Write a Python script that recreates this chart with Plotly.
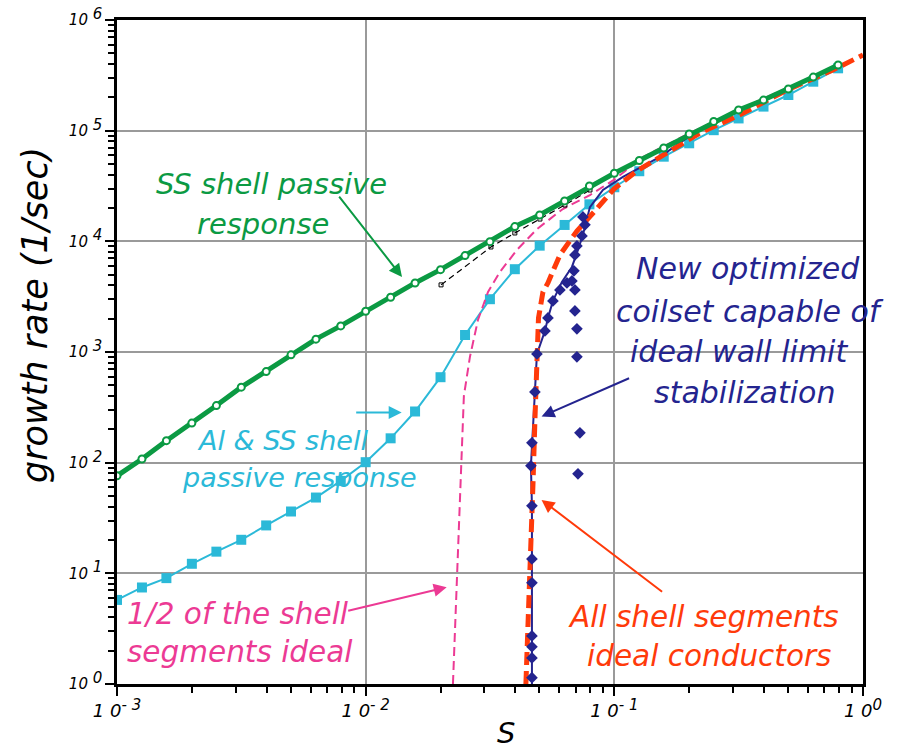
import math
import plotly.graph_objects as go

# ---------------- data ----------------
s_grid = [0.001, 0.00126, 0.00158, 0.002, 0.00251, 0.00316, 0.00398, 0.00501, 0.00631, 0.00794,
          0.01, 0.0126, 0.0158, 0.02, 0.0251, 0.0316, 0.0398, 0.0501, 0.0631, 0.0794,
          0.1, 0.126, 0.158, 0.2, 0.251, 0.316, 0.398, 0.501, 0.631, 0.794]

ss_rate = [76, 108, 158, 228, 328, 481, 665, 942, 1306, 1722,
           2333, 3126, 4207, 5550, 7430, 9930, 13590, 17300, 23200, 31600,
           41200, 53700, 69800, 93300, 121000, 154000, 189000, 238000, 305000, 392000]

alss_rate = [5.75, 7.45, 9.05, 12.2, 15.7, 20.1, 27.1, 36.2, 48.4, 68.5,
             101, 166, 290, 592, 1425, 3000, 5600, 9140, 14060, 21600,
             30800, 43000, 58200, 76900, 101000, 129000, 165000, 210000, 277000, 366000]

black_s = [0.0201, 0.0319, 0.0398, 0.0502, 0.0633, 0.0798]
black_rate = [4040, 8890, 11900, 15900, 21300, 29100]

half_s = [0.02244, 0.02285, 0.02327, 0.02393, 0.02438, 0.02483, 0.02626, 0.02829, 0.03105, 0.03469,
          0.04058, 0.04883, 0.06209, 0.07977, 0.09955, 0.1303, 0.2013, 0.3848, 0.7925]
half_rate = [1, 3.09, 8.73, 46.1, 131, 401, 904, 1950, 3490, 5300,
             8360, 12900, 19600, 26200, 35900, 57800, 95300, 189000, 384000]

ideal_s = [0.04409, 0.04581, 0.0471, 0.04798, 0.04887, 0.04955, 0.05164, 0.05407, 0.06043, 0.07074,
           0.08281, 0.09955, 0.1233, 0.1525, 0.2209, 0.3197, 0.4943, 0.7565, 1.0]
ideal_rate = [1, 8.2, 65.6, 259, 904, 2032, 3490, 4210, 7540, 12400,
              18400, 29700, 43200, 57800, 95300, 139000, 233000, 353000, 483000]

coil_line_s = [0.04663, 0.04663, 0.04663, 0.04663, 0.04663, 0.04663, 0.04663, 0.04619, 0.04663, 0.04793,
               0.04884, 0.0526, 0.05408, 0.05664, 0.06155, 0.06753, 0.07141, 0.07474, 0.07977, 0.08999,
               0.1083, 0.1526, 0.2014]
coil_line_rate = [1.0, 1.72, 2.17, 2.72, 8.21, 13.5, 40.7, 93.6, 151, 436,
                  961, 1550, 2030, 2895, 4300, 5870, 8360, 11400, 20400, 29100,
                  38200, 57900, 89600]

coil_pts_s = [0.04663, 0.04663, 0.04663, 0.04663, 0.04663, 0.04663, 0.04663, 0.04619, 0.04663, 0.04793,
              0.04884, 0.0526, 0.05408, 0.05664]
coil_pts_rate = [1.14, 1.72, 2.17, 2.72, 8.21, 13.5, 40.7, 93.6, 151, 436,
                 961, 1550, 2030, 2895]

coil_scatter_s = [0.06042, 0.06448, 0.06753, 0.06943, 0.06943, 0.07072, 0.07072, 0.07272, 0.07141,
                  0.06879, 0.06943, 0.07072, 0.0741, 0.07618, 0.07474]
coil_scatter_rate = [3640, 4207, 4385, 3640, 2350, 1618, 904, 186, 79.2,
                     5410, 7540, 9090, 11200, 14100, 16600]

x_tick_vals = [0.001, 0.01, 0.1, 1]
x_tick_exp = ["- 3", "- 2", "- 1", "0"]
y_tick_vals = [1, 10, 100, 1000, 10000, 100000, 1000000]
y_tick_exp = ["0", "1", "2", "3", "4", "5", "6"]

# ---------------- styling ----------------
GREEN = "#0b9a43"
CYAN = "#2bb9d8"
MAGENTA = "#ec3a94"
RED = "#ff3a0a"
NAVY = "#24248f"
FONT = "DejaVu Sans"

W, H = 900, 749
L, R, T, B = 117, 863, 20, 684    # plot area in screenshot pixels


def px2paper(px, py):
    return (px - L) / (R - L), (B - py) / (B - T)


x_tick_text = ['1 0<sup><span style="font-size:15px">%s</span></sup>' % e for e in x_tick_exp]
y_tick_text = ['10<sup><span style="font-size:15px"> %s</span></sup>' % e for e in y_tick_exp]

fig = go.Figure()

fig.add_trace(go.Scatter(x=s_grid, y=alss_rate, mode="lines+markers",
                         line=dict(color=CYAN, width=2),
                         marker=dict(symbol="square", size=10, color=CYAN)))
fig.add_trace(go.Scatter(x=half_s, y=half_rate, mode="lines",
                         line=dict(color=MAGENTA, width=2, dash="9px,5px")))
fig.add_trace(go.Scatter(x=black_s, y=black_rate, mode="lines+markers",
                         line=dict(color="black", width=1.2, dash="6px,4px"),
                         marker=dict(symbol="square-open", size=4, color="black")))
fig.add_trace(go.Scatter(x=coil_line_s, y=coil_line_rate, mode="lines",
                         line=dict(color=NAVY, width=2)))
fig.add_trace(go.Scatter(x=ideal_s, y=ideal_rate, mode="lines",
                         line=dict(color=RED, width=5, dash="13px,6px")))
fig.add_trace(go.Scatter(x=coil_pts_s, y=coil_pts_rate, mode="markers",
                         marker=dict(symbol="diamond", size=9, color=NAVY)))
fig.add_trace(go.Scatter(x=coil_scatter_s, y=coil_scatter_rate, mode="markers",
                         marker=dict(symbol="diamond", size=9, color=NAVY)))
fig.add_trace(go.Scatter(x=s_grid, y=ss_rate, mode="lines+markers",
                         line=dict(color=GREEN, width=5),
                         marker=dict(symbol="circle", size=7, color="white",
                                     line=dict(color=GREEN, width=2))))

annotations = []

# text lines: (text, px_center, py_center, size, color)
text_lines = [
    ("SS shell passive", 271, 184, 29, GREEN),
    ("response", 263, 224, 29, GREEN),
    ("Al & SS shell", 282, 440, 27, CYAN),
    ("passive response", 299, 477, 27, CYAN),
    ("1/2 of the shell", 238, 614, 29.5, MAGENTA),
    ("segments ideal", 240, 652, 29.5, MAGENTA),
    ("New optimized", 748, 268, 30, NAVY),
    ("coilset capable of", 750, 311, 30, NAVY),
    ("ideal wall limit", 739, 351, 30, NAVY),
    ("stabilization", 744, 392, 30, NAVY),
    ("All shell segments", 703, 617, 29.5, RED),
    ("ideal conductors", 709, 656, 29.5, RED),
]
for txt, px, py, sz, col in text_lines:
    xp, yp = px2paper(px, py)
    annotations.append(dict(text=txt, x=xp, y=yp, xref="paper", yref="paper",
                            xanchor="center", yanchor="middle", showarrow=False,
                            font=dict(family=FONT, size=sz, color=col, style="italic")))

# arrows: tip in data coordinates, tail offset in pixels
arrows = [
    (0.0140, 4760, -64, -82, GREEN),
    (0.01396, 284, -47, 0, CYAN),
    (0.02118, 7.5, -100, 24, MAGENTA),
    (0.05099, 261, 89, -39, NAVY),
    (0.05099, 46.1, 122, 93, RED),
]
for s_tip, r_tip, ax, ay, col in arrows:
    annotations.append(dict(text="", x=math.log10(s_tip), y=math.log10(r_tip),
                            xref="x", yref="y", ax=ax, ay=ay, showarrow=True,
                            arrowhead=2, arrowsize=1.3, arrowwidth=2, arrowcolor=col,
                            standoff=0))

# axis titles
xp, yp = px2paper(35, 315)
annotations.append(dict(text="growth rate (1/sec)", x=xp, y=yp, xref="paper", yref="paper",
                        textangle=-90, showarrow=False, xanchor="center", yanchor="middle",
                        font=dict(family=FONT, size=35, color="black", style="italic")))
xp, yp = px2paper(506, 733)
annotations.append(dict(text="S", x=xp, y=yp, xref="paper", yref="paper",
                        showarrow=False, xanchor="center", yanchor="middle",
                        font=dict(family=FONT, size=29, color="black", style="italic")))

x_minor = [m * 10.0 ** e for e in range(-3, 0) for m in range(2, 10)]
y_minor = [m * 10.0 ** e for e in range(0, 6) for m in range(2, 10)]

axis_common = dict(type="log", showgrid=True, gridcolor="#9a9a9a", gridwidth=2,
                   showline=True, linecolor="black", linewidth=2.5, mirror=True,
                   ticks="outside", ticklen=9, tickwidth=2, tickcolor="black",
                   tickmode="array", zeroline=False, automargin=False,
                   ticklabeloverflow="allow")

fig.update_xaxes(**axis_common, range=[-3, 0], tickvals=x_tick_vals, ticktext=x_tick_text,
                 tickfont=dict(family=FONT, size=18, color="black", style="italic"),
                 minor=dict(tickmode="array", tickvals=x_minor, ticks="outside", ticklen=6,
                            tickwidth=1.5, tickcolor="black", showgrid=False))
fig.update_yaxes(**axis_common, range=[0, 6], tickvals=y_tick_vals, ticktext=y_tick_text,
                 tickfont=dict(family=FONT, size=15, color="black", style="italic"),
                 minor=dict(tickmode="array", tickvals=y_minor, ticks="outside", ticklen=6,
                            tickwidth=1.5, tickcolor="black", showgrid=False))

fig.update_layout(width=W, height=H, showlegend=False,
                  margin=dict(l=L, r=W - R, t=T, b=H - B),
                  plot_bgcolor="white", paper_bgcolor="white",
                  annotations=annotations)

fig.write_html("out.html",
               config={"displayModeBar": False},
               post_script="document.body.style.margin='0px';"
                           "document.body.style.overflow='hidden';")
